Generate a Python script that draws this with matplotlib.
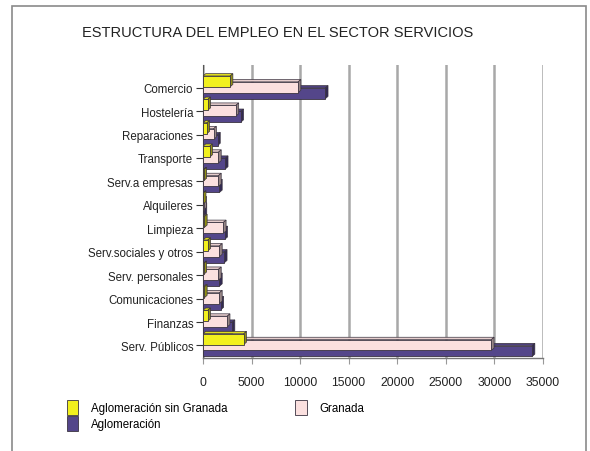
import matplotlib
matplotlib.use("Agg")
import matplotlib.pyplot as plt
from matplotlib.patches import Polygon, Rectangle
from matplotlib.colors import to_rgb
import numpy as np

plt.rcParams['font.family'] = ['Liberation Sans', 'DejaVu Sans']

categories = ["Comercio", "Hostelería", "Reparaciones", "Transporte",
              "Serv.a empresas", "Alquileres", "Limpieza",
              "Serv.sociales y otros", "Serv. personales",
              "Comunicaciones", "Finanzas", "Serv. Públicos"]
sin_granada = [2800, 500, 400, 700, 100, 30, 150, 500, 100, 150, 500, 4200]
granada = [9800, 3400, 1100, 1600, 1600, 80, 2100, 1700, 1600, 1700, 2500, 29700]
aglomeracion = [12600, 3900, 1500, 2300, 1700, 110, 2250, 2200, 1700, 1850, 3000, 33900]
xticks = [0, 5000, 10000, 15000, 20000, 25000, 30000, 35000]

series = [
    ("Aglomeración sin Granada", sin_granada, "#f2f01e", -0.27, 5),
    ("Granada", granada, "#fbe0df", -0.02, 4),
    ("Aglomeración", aglomeracion, "#54468a", 0.24, 3),
]

fig = plt.figure(figsize=(5.9, 4.52), dpi=100)
ax = fig.add_axes([0.344, 0.205, 0.576, 0.648])

pos = np.arange(len(categories))
h = 0.46
dx = 280      # depth offset along the value axis
dy = 0.10     # depth offset along the category axis


def shade(c, f):
    r, g, b = to_rgb(c)
    return (r * f, g * f, b * f)


handles = {}
for name, vals, col, off, z in series:
    bars = ax.barh(pos + off, vals, height=h, color=col, edgecolor="#3a3340",
                   linewidth=0.6, zorder=z, label=name)
    handles[name] = bars
    for p, v in zip(pos + off, vals):
        top = p - h / 2
        bot = p + h / 2
        top_face = Polygon([(0, top), (dx, top - dy), (v + dx, top - dy), (v, top)],
                           closed=True, facecolor=shade(col, 0.92),
                           edgecolor="#3a3340", linewidth=0.5, zorder=z - 0.5)
        side_face = Polygon([(v, top), (v + dx, top - dy), (v + dx, bot - dy), (v, bot)],
                            closed=True, facecolor=shade(col, 0.6),
                            edgecolor="#3a3340", linewidth=0.5, zorder=z - 0.5)
        ax.add_patch(top_face)
        ax.add_patch(side_face)

ax.set_xlim(0, 35000)
ax.set_ylim(11.55, -0.95)
ax.set_yticks(pos)
ax.set_yticklabels(categories, fontsize=8.3, color="#222222")
ax.set_xticks(xticks)
ax.set_xticklabels([str(t) for t in xticks], fontsize=8.8, color="#222222")
ax.tick_params(axis="y", length=5, width=0.8, color="#333333", pad=2)
ax.tick_params(axis="x", length=4, width=0.8, color="#999999", pad=9)

ax.grid(axis="x", color="#a8a8a8", linewidth=1.8, zorder=0)
ax.set_axisbelow(True)
for s in ["top", "right"]:
    ax.spines[s].set_visible(False)
ax.spines["left"].set_color("#555555")
ax.spines["left"].set_linewidth(0.8)
ax.spines["bottom"].set_color("#777777")
ax.spines["bottom"].set_linewidth(1.0)

fig.text(0.47, 0.927, "ESTRUCTURA DEL EMPLEO EN EL SECTOR SERVICIOS",
         ha="center", va="center", fontsize=10.5, color="#222222")

leg_handles = [handles["Aglomeración sin Granada"], handles["Aglomeración"],
               handles["Granada"]]
leg_labels = ["Aglomeración sin Granada", "Aglomeración", "Granada"]
fig.legend(leg_handles, leg_labels, loc="upper left",
           bbox_to_anchor=(0.105, 0.123), ncol=2, frameon=False,
           fontsize=8.3, handlelength=1.0, handleheight=1.6,
           columnspacing=5.9, labelspacing=0.12, handletextpad=1.1,
           borderaxespad=0.0)

# outer frame of the panel
fig.patches.append(Rectangle((12 / 590, -0.05), (586 - 12) / 590, 1.05 - 7 / 452,
                             transform=fig.transFigure, fill=False,
                             edgecolor="#8a8a8a", linewidth=1.2))

fig.savefig("out.png", dpi=100)
